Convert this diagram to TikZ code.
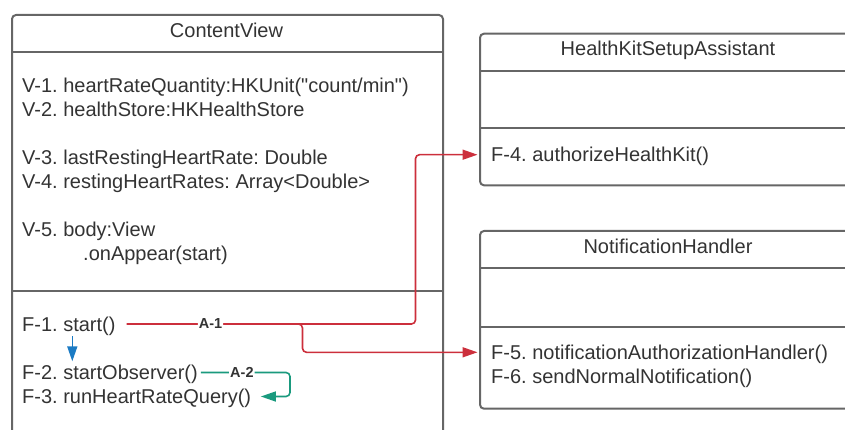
\documentclass[tikz,border=0pt]{standalone}
\usepackage{fontspec}
\setmainfont{Liberation Sans}[Ligatures=TeXOff]
\usepackage{xcolor}
\usetikzlibrary{positioning, arrows.meta}

\definecolor{boxgray}{HTML}{666666}
\definecolor{txtgray}{HTML}{333333}
\definecolor{callred}{HTML}{CC2F3C}
\definecolor{callblue}{HTML}{1B7BC4}
\definecolor{callgreen}{HTML}{1A9A7E}

\frenchspacing
\begin{document}
\begin{tikzpicture}[
    x=1pt, y=-1pt,
    font=\fontsize{20}{24}\selectfont,
    text=txtgray,
    classbox/.style={
        draw=boxgray, line width=2pt, rounded corners=4pt,
        anchor=north west, inner sep=0pt,
    },
    divider/.style={draw=boxgray, line width=2pt},
    title/.style={anchor=base, inner sep=0pt},
    member/.style={anchor=base west, inner sep=0pt, text height=14pt, text depth=0pt},
    call/.style={-{Triangle[length=15pt, width=10pt]}, line width=1.6pt, rounded corners=4pt},
    tag/.style={font=\bfseries\fontsize{14.5}{14.5}\selectfont, text=txtgray, fill=white, inner sep=1pt},
]
\useasboundingbox (0,0) rectangle (845,430);
\clip (0,0) rectangle (845,430);

% class boxes (cut off by the page edge)
\node[classbox, minimum width=431pt, minimum height=460pt] (cv) at (11,14) {};
\node[classbox, minimum width=420pt, minimum height=151.6pt] (hk) at (479,32.7) {};
\node[classbox, minimum width=420pt, minimum height=177.7pt] (nh) at (479,230) {};

\draw[divider] (11,52.5) -- (442,52.5);
\draw[divider] (11,290.7) -- (442,290.7);
\draw[divider] (479,70.7) -- (900,70.7);
\draw[divider] (479,128.3) -- (900,128.3);
\draw[divider] (479,268.3) -- (900,268.3);
\draw[divider] (479,326.7) -- (900,326.7);

\node[title] (cvtitle) at (226.5,37.3) {ContentView};
\node[title] (hktitle) at (668,55.7) {HealthKitSetupAssistant};
\node[title] (nhtitle) at (668,253.3) {NotificationHandler};

% members
\node[member] (v1) at (22,92.3) {V-1. heartRateQuantity:HKUnit("count/min")};
\node[member] (v2) at (22,116.3) {V-2. healthStore:HKHealthStore};
\node[member] (v3) at (22,164.3) {V-3. lastRestingHeartRate: Double};
\node[member] (v4) at (22,188.3) {V-4. restingHeartRates: Array<Double>};
\node[member] (v5) at (22,236.3) {V-5. body:View};
\node[member] (v5b) at (83,260.3) {.onAppear(start)};

\node[member] (f1) at (22,331) {F-1. start()};
\node[member] (f2) at (22,379.5) {F-2. startObserver()};
\node[member] (f3) at (22,403.5) {F-3. runHeartRateQuery()};
\node[member] (f4) at (491,161.7) {F-4. authorizeHealthKit()};
\node[member] (f5) at (491,359.3) {F-5. notificationAuthorizationHandler()};
\node[member] (f6) at (491,383.3) {F-6. sendNormalNotification()};

% calls
\coordinate (riser) at (415.5,0);
\coordinate (fork) at (302.5,0);
\coordinate (hook) at (290,0);

\draw[call, callred, shorten >=1.5pt] ([xshift=11pt]f1.east) -- node[tag, pos=0.29] (a1) {A-1}
    (f1.east -| riser) -- (riser |- f4.west) -- (hk.west |- f4.west);
\draw[call, callred, shorten >=1.5pt] ([xshift=-6pt]f1.east -| fork) -- (f1.east -| fork)
    -- (fork |- f5.west) -- (nh.west |- f5.west);
\draw[call, callblue] ([xshift=50.3pt, yshift=-5pt]f1.base west) -- ([xshift=50.3pt, yshift=4pt]f2.north west);
\draw[call, callgreen] ([xshift=3pt]f2.east) -- node[tag, pos=0.46] (a2) {A-2}
    (f2.east -| hook) -- (hook |- f3.east) -- ([xshift=9.5pt]f3.east);

\end{tikzpicture}
\end{document}
